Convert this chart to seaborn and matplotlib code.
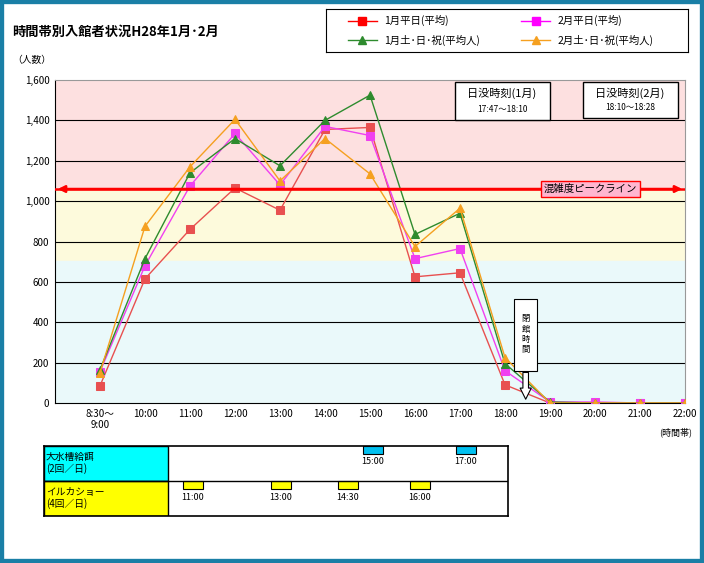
import matplotlib
matplotlib.use("Agg")
import matplotlib.pyplot as plt
import matplotlib.patches as mp
import seaborn as sns
import pandas as pd

plt.rcParams["font.family"] = "Noto Sans CJK JP"

times = ["8:30～\n9:00", "10:00", "11:00", "12:00", "13:00", "14:00", "15:00", "16:00",
         "17:00", "18:00", "19:00", "20:00", "21:00", "22:00"]
jan_weekday = [85, 615, 860, 1065, 955, 1355, 1365, 625, 645, 90, 0, 0, 0, 0]
feb_weekday = [155, 680, 1075, 1335, 1080, 1370, 1325, 715, 765, 160, 5, 5, 0, 0]
jan_holiday = [165, 715, 1140, 1310, 1175, 1400, 1525, 835, 940, 195, 5, 0, 0, 0]
feb_holiday = [150, 875, 1170, 1405, 1100, 1310, 1135, 775, 965, 225, 0, 0, 0, 0]
series_names = ["1月平日(平均)", "2月平日(平均)", "1月土･日･祝(平均人)", "2月土･日･祝(平均人)"]
peak_line = 1060
yellow_low = 705
yticks = [0, 200, 400, 600, 800, 1000, 1200, 1400, 1600]

W, H = 704, 563
fig = plt.figure(figsize=(W / 100, H / 100), dpi=100)
fig.patch.set_facecolor("white")
fig.add_artist(mp.Rectangle((0, 0), 1, 1, transform=fig.transFigure, fill=False,
                            edgecolor="#1a7fa6", linewidth=6))

def fx(px): return px / W
def fy(py): return 1 - py / H

ax = fig.add_axes([fx(55), fy(403), fx(685) - fx(55), fy(80) - fy(403)])
ax.set_xlim(-1, 13)
ax.set_ylim(0, 1600)
ax.axhspan(peak_line, 1600, color="#fde0e0", zorder=0)
ax.axhspan(yellow_low, peak_line, color="#fdfadc", zorder=0)
ax.axhspan(0, yellow_low, color="#eaf9fa", zorder=0)
for t in yticks[1:-1]:
    ax.axhline(t, color="black", lw=0.8, zorder=1)

df = pd.DataFrame({"x": list(range(len(times))) * 4,
                   "y": jan_weekday + feb_weekday + jan_holiday + feb_holiday,
                   "s": sum([[n] * len(times) for n in series_names], [])})
colors = ["#e85050", "#f040f0", "#2e8b2e", "#f5a020"]
leg_colors = ["#ff0000", "#ff00ff", "#2e8b2e", "#f5a020"]
markers = ["s", "s", "^", "^"]
for name, c, m in zip(series_names, colors, markers):
    d = df[df.s == name]
    sns.lineplot(data=d, x="x", y="y", ax=ax, color=c, marker=m, markersize=6,
                 markeredgecolor=c, lw=1, label=name, zorder=3)
ax.legend().remove()

ax.axhline(peak_line, color="red", lw=1.8, zorder=4)
ax.annotate("", xy=(-1, peak_line), xytext=(13, peak_line),
            arrowprops=dict(arrowstyle="<|-|>", color="red", lw=1.8), zorder=4)
ax.text(10.9, peak_line, "混雑度ピークライン", ha="center", va="center", fontsize=7.5, zorder=5,
        bbox=dict(boxstyle="square,pad=0.3", fc="#ffb6d0", ec="red", lw=1))

ax.set_xticks(range(len(times)))
ax.set_xticklabels(times, fontsize=7)
ax.set_yticks(yticks)
ax.set_yticklabels([f"{v:,}" for v in yticks], fontsize=7)
ax.tick_params(length=0, pad=4)
ax.set_xlabel("")
ax.set_ylabel("")
for s in ["top", "right"]:
    ax.spines[s].set_color("#999999")

# sunset boxes (figure pixel coords)
def fbox(x0, y0, x1, y1):
    fig.add_artist(mp.Rectangle((fx(x0), fy(y1)), fx(x1) - fx(x0), fy(y0) - fy(y1),
                                transform=fig.transFigure, fc="white", ec="black", lw=1, zorder=5))
fbox(455, 82, 550, 120)
fig.text(fx(502), fy(93), "日没時刻(1月)", ha="center", va="center", fontsize=8, zorder=6)
fig.text(fx(502), fy(110), "17:47～18:10", ha="center", va="center", fontsize=6, zorder=6)
fbox(583, 82, 678, 118)
fig.text(fx(630), fy(93), "日没時刻(2月)", ha="center", va="center", fontsize=8, zorder=6)
fig.text(fx(630), fy(107), "18:10～18:28", ha="center", va="center", fontsize=6, zorder=6)

# closing time callout
ax.add_patch(mp.Rectangle((9.2, 160), 0.52, 355, fc="white", ec="black", lw=0.8, zorder=5))
ax.annotate("", xy=(9.46, 5), xytext=(9.46, 165),
            arrowprops=dict(arrowstyle="simple,head_width=0.8,head_length=0.8,tail_width=0.4",
                            fc="white", ec="black", lw=0.8), zorder=5)
ax.text(9.46, 340, "閉\n館\n時\n間", ha="center", va="center", fontsize=6, zorder=6, linespacing=1.2)

fig.text(fx(12), fy(32), "時間帯別入館者状況H28年1月･2月", fontsize=9.5, fontweight="bold", va="center")
fig.text(fx(12), fy(60), "（人数）", fontsize=7, va="center")
fig.text(fx(692), fy(432), "(時間帯)", fontsize=6.5, ha="right", va="center")

# legend box
lax = fig.add_axes([fx(326), fy(52), fx(688) - fx(326), fy(9) - fy(52)])
lax.set_xlim(0, 1); lax.set_ylim(0, 1); lax.set_xticks([]); lax.set_yticks([])
pos = [(0.1, 0.73), (0.58, 0.73), (0.1, 0.27), (0.58, 0.27)]
for (x0, y0), name, c, m in zip(pos, series_names, leg_colors, markers):
    lax.plot([x0 - 0.04, x0 + 0.04], [y0, y0], color=c, lw=1)
    lax.plot([x0], [y0], marker=m, color=c, markersize=6)
    lax.text(x0 + 0.06, y0, name, fontsize=7.5, va="center")

# schedule table
tax = fig.add_axes([fx(44), fy(516), fx(508) - fx(44), fy(446) - fy(516)])
tax.set_xlim(44, 508); tax.set_ylim(516, 446)
tax.set_xticks([]); tax.set_yticks([])
for sp in tax.spines.values():
    sp.set_linewidth(1.2)
tax.add_patch(mp.Rectangle((44, 446), 124, 35, fc="#00ffff", ec="black", lw=1))
tax.add_patch(mp.Rectangle((44, 481), 124, 35, fc="#ffff00", ec="black", lw=1))
tax.axhline(481, color="black", lw=1)
tax.text(46, 463, "大水槽給餌\n(2回／日)", fontsize=7, va="center")
tax.text(46, 498, "イルカショー\n(4回／日)", fontsize=7, va="center")
feed_x = [373, 466]
feed_t = ["15:00", "17:00"]
for x, t in zip(feed_x, feed_t):
    tax.add_patch(mp.Rectangle((x - 10, 446), 20, 8, fc="#00c0f0", ec="black", lw=0.8))
    tax.text(x, 461, t, fontsize=6.5, ha="center", va="center")
show_x = [193, 281, 348, 420]
show_t = ["11:00", "13:00", "14:30", "16:00"]
for x, t in zip(show_x, show_t):
    tax.add_patch(mp.Rectangle((x - 10, 481), 20, 8, fc="#ffff00", ec="black", lw=0.8))
    tax.text(x, 498, t, fontsize=6.5, ha="center", va="center")

fig.savefig("out.png", dpi=100)
